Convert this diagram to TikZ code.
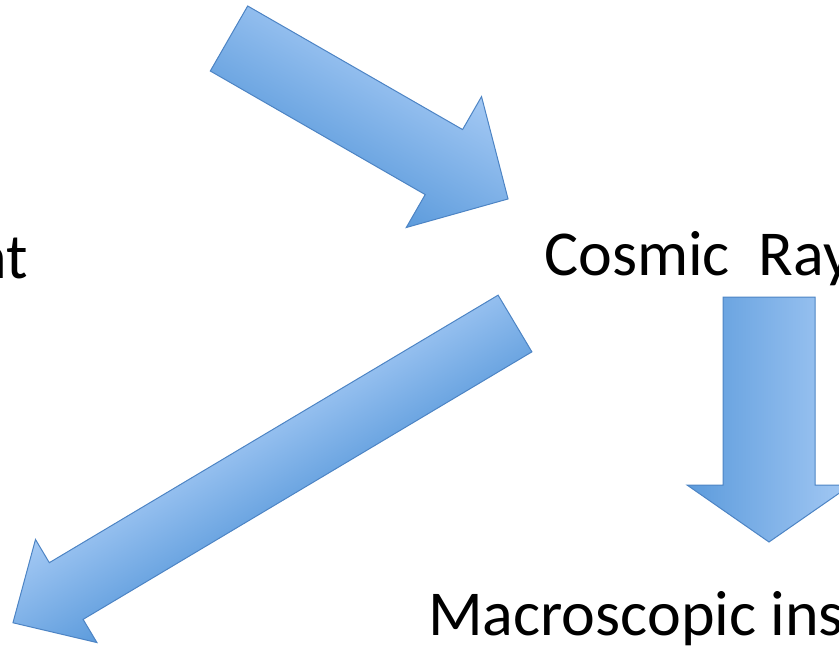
\documentclass[tikz,border=0pt]{standalone}
\usepackage{fontspec}
\setmainfont{Carlito}
\usepackage{tikz}
\usetikzlibrary{calc,positioning}
\definecolor{ink}{HTML}{000000}
\definecolor{arrdark}{HTML}{5C9BDC}
\definecolor{arrlight}{HTML}{A4C9F4}
\definecolor{arrline}{HTML}{4D84C4}
\tikzset{
  lbl/.style={font=\fontsize{64}{72}\selectfont,text=ink,inner sep=0pt},
  arrowbody/.style={draw=arrline,line width=1pt,line join=miter},
  litetop/.style={top color=arrlight,bottom color=arrdark},
  litebot/.style={top color=arrdark,bottom color=arrlight}}
% block arrow along +x: length, half shaft, half head, head length, shading
\newcommand{\blockarrow}[5]{%
  \shade[arrowbody,#5] (0pt,#2pt) -- ({#1pt-#4pt},#2pt) -- ({#1pt-#4pt},#3pt)
    -- (#1pt,0pt) -- ({#1pt-#4pt},-#3pt) -- ({#1pt-#4pt},-#2pt) -- (0pt,-#2pt) -- cycle;}

\begin{document}
\begin{tikzpicture}[x=1pt,y=-1pt]
\useasboundingbox (0,0) rectangle (839,650);
\clip (0,0) rectangle (839,650);

\node[lbl,anchor=base east] (env) at (28,279) {nt};
\node[lbl,anchor=base west] (cosmic) at (544,276) {Cosmic\ \ Ray};
\node[lbl,anchor=base west] (macro) at (428,635) {Macroscopic ins};

% into the rays
\begin{scope}[transform canvas={shift={(229,38.5)},rotate=-29.9}]
  \blockarrow{321.9}{37.5}{75.5}{74}{litetop}
\end{scope}
% down to the instrument
\begin{scope}[transform canvas={shift={(769,297)},rotate=-90}]
  \blockarrow{245}{46}{82}{57}{litetop}
\end{scope}
% back to the left
\begin{scope}[transform canvas={shift={(515,323.5)},rotate=-149.2}]
  \blockarrow{584.5}{33}{60}{62}{litebot}
\end{scope}
\end{tikzpicture}
\end{document}
